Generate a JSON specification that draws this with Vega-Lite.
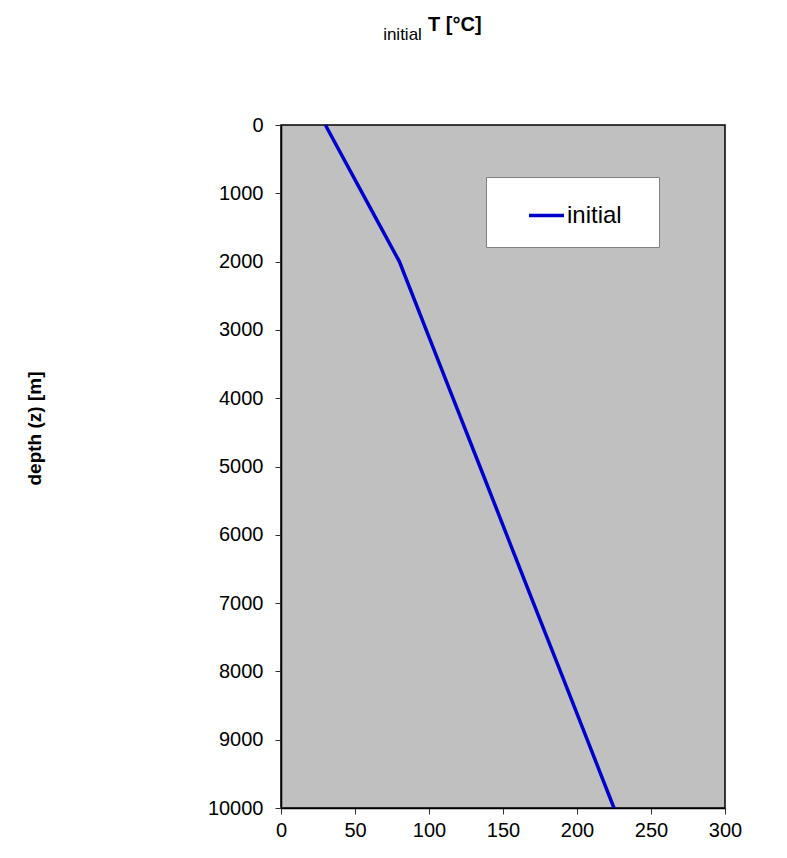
{
  "$schema": "https://vega.github.io/schema/vega-lite/v6.json",
  "width": 444,
  "height": 683,
  "autosize": {"type": "none"},
  "padding": {"left": 281, "top": 125, "right": 62, "bottom": 50},
  "background": "white",
  "config": {
    "font": "Liberation Sans",
    "view": {"fill": "#c0c0c0", "stroke": "black", "strokeWidth": 1.5},
    "axis": {"grid": false, "labelFont": "Liberation Sans", "titleFont": "Liberation Sans", "labelColor": "black", "titleColor": "black", "domainColor": "black", "tickColor": "#333333"}
  },
  "title": {
    "text": "T [°C]",
    "anchor": "start",
    "frame": "group",
    "dx": 147,
    "fontSize": 20,
    "fontWeight": "bold",
    "font": "Liberation Sans",
    "color": "black",
    "baseline": "alphabetic",
    "offset": -26
  },
  "data": {
    "values": [
      {"depth": 0, "T": 30, "series": "initial"},
      {"depth": 1000, "T": 55, "series": "initial"},
      {"depth": 2000, "T": 80, "series": "initial"},
      {"depth": 3000, "T": 98.1, "series": "initial"},
      {"depth": 4000, "T": 116.2, "series": "initial"},
      {"depth": 5000, "T": 134.4, "series": "initial"},
      {"depth": 6000, "T": 152.5, "series": "initial"},
      {"depth": 7000, "T": 170.6, "series": "initial"},
      {"depth": 8000, "T": 188.8, "series": "initial"},
      {"depth": 9000, "T": 206.9, "series": "initial"},
      {"depth": 10000, "T": 225, "series": "initial"}
    ]
  },
  "layer": [
    {
      "mark": {"type": "line", "strokeWidth": 3.5},
      "encoding": {
        "x": {
          "field": "T", "type": "quantitative",
          "scale": {"domain": [0, 300], "nice": false, "zero": false},
          "axis": {"orient": "bottom", "values": [0, 50, 100, 150, 200, 250, 300], "title": null, "labelFontSize": 20, "tickSize": 6, "labelPadding": 6, "domainWidth": 1.5, "labelFlush": false}
        },
        "y": {
          "field": "depth", "type": "quantitative",
          "scale": {"domain": [0, 10000], "reverse": true, "nice": false},
          "axis": {"values": [0, 1000, 2000, 3000, 4000, 5000, 6000, 7000, 8000, 9000, 10000], "format": "d", "labelFontSize": 20, "tickSize": 6, "labelPadding": 12, "domainWidth": 1.5, "title": "depth (z) [m]", "titleFontSize": 19, "titleFontWeight": "bold", "titleX": -247, "titleY": 303, "titleAngle": -90, "titleBaseline": "middle", "titleAlign": "center", "labelFlush": false}
        },
        "color": {
          "field": "series", "type": "nominal",
          "scale": {"range": ["#0000cc"]},
          "legend": {
            "title": null,
            "orient": "none",
            "legendX": 205,
            "legendY": 52,
            "padding": 19,
            "symbolType": "stroke",
            "symbolSize": 1225,
            "symbolStrokeWidth": 3.5,
            "symbolOffset": 22,
            "labelOffset": 1,
            "labelFontSize": 24,
            "labelFont": "Liberation Sans",
            "labelColor": "black",
            "labelExpr": "datum.label + '\u2800'",
            "fillColor": "white",
            "strokeColor": "#808080"
          }
        }
      }
    },
    {
      "mark": {"type": "line", "opacity": 0},
      "encoding": {
        "x": {
          "field": "T", "type": "quantitative",
          "axis": {"orient": "top", "domain": false, "ticks": false, "labels": false, "title": "initial", "titleFontSize": 17, "titleFontWeight": "normal", "titleX": 121, "titleY": -86, "titleBaseline": "alphabetic", "titleAlign": "center"}
        }
      }
    }
  ],
  "resolve": {"axis": {"x": "independent"}}
}
